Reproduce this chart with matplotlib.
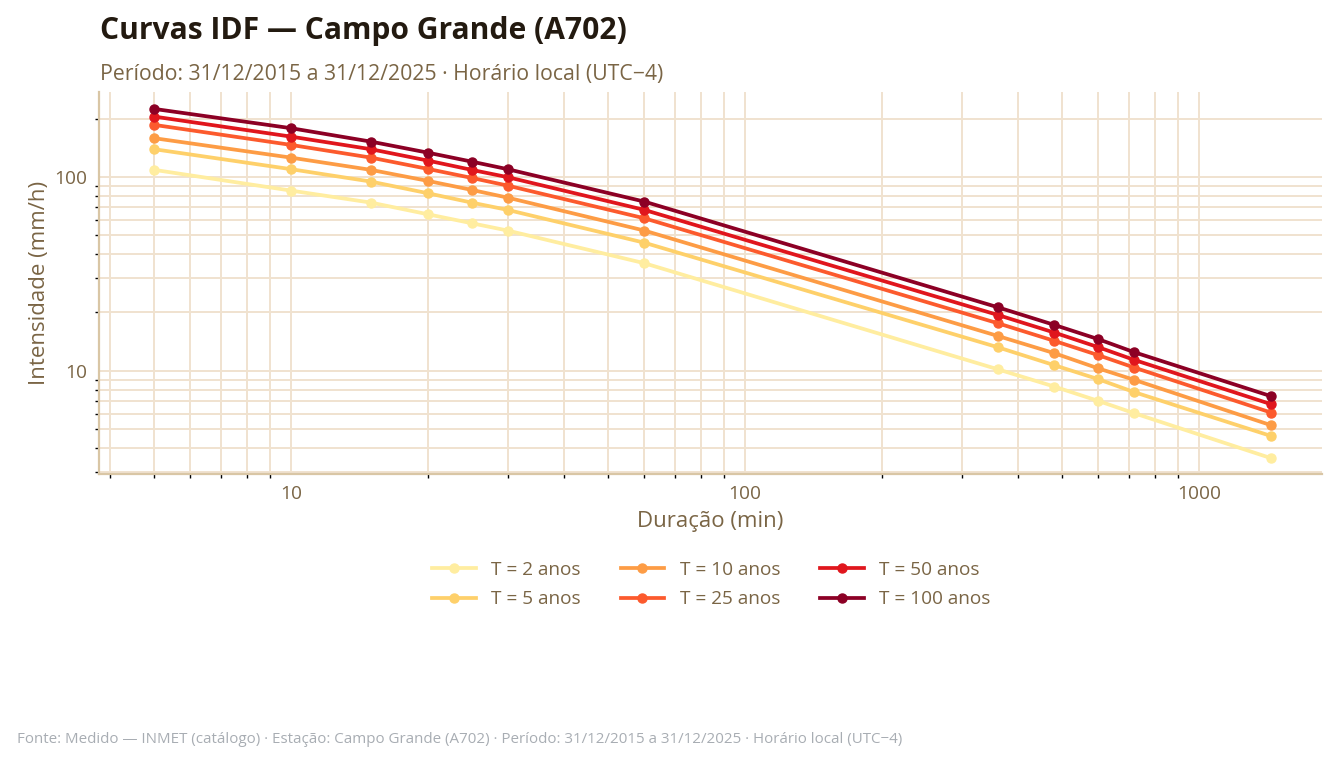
import matplotlib
matplotlib.use('Agg')
import matplotlib.pyplot as plt
from matplotlib.ticker import LogLocator, FixedLocator, FixedFormatter, NullFormatter

plt.rcParams['font.family'] = ['Open Sans', 'DejaVu Sans']

# duracoes (min) e intensidades (mm/h)
duracao = [5, 10, 15, 20, 25, 30, 60, 360, 480, 600, 720, 1440]
i_t2 = [108.7, 85.0, 73.7, 64.2, 57.7, 52.9, 35.9, 10.2, 8.30, 7.0, 6.05, 3.55]
i_t5 = [138.9, 109.6, 94.6, 82.4, 73.7, 67.6, 45.8, 13.25, 10.7, 9.06, 7.77, 4.62]
i_t10 = [158.3, 125.7, 108.7, 95.4, 85.7, 78.2, 52.9, 15.15, 12.34, 10.3, 8.99, 5.25]
i_t25 = [185.4, 146.2, 125.7, 110.0, 98.8, 90.2, 61.2, 17.62, 14.28, 12.05, 10.4, 6.10]
i_t50 = [204.6, 161.3, 138.9, 121.4, 108.7, 99.7, 67.6, 19.44, 15.76, 13.25, 11.39, 6.74]
i_t100 = [224.1, 178.3, 152.0, 133.4, 119.9, 109.6, 74.6, 21.3, 17.26, 14.57, 12.48, 7.41]

series = [('T = 2 anos', i_t2, '#ffeda0'),
          ('T = 5 anos', i_t5, '#fed06a'),
          ('T = 10 anos', i_t10, '#fd9c45'),
          ('T = 25 anos', i_t25, '#fc5a2d'),
          ('T = 50 anos', i_t50, '#e0161d'),
          ('T = 100 anos', i_t100, '#8c0025')]

txt = '#7a6545'
grid = '#f0e2cf'

fig = plt.figure(figsize=(13.38, 7.66), dpi=100)
ax = fig.add_axes([0.0738, 0.3812, 0.9146, 0.4987])

for label, vals, cor in series:
    ax.plot(duracao, vals, '-o', color=cor, lw=2.7, ms=6.5, label=label)

ax.set_xscale('log')
ax.set_yscale('log')
ax.set_xlim(3.77, 1871)
ax.set_ylim(2.94, 274)

ax.xaxis.set_major_locator(FixedLocator([10, 100, 1000]))
ax.xaxis.set_major_formatter(FixedFormatter(['10', '100', '1000']))
ax.xaxis.set_minor_locator(LogLocator(base=10, subs=range(2, 10)))
ax.xaxis.set_minor_formatter(NullFormatter())
ax.yaxis.set_major_locator(FixedLocator([10, 100]))
ax.yaxis.set_major_formatter(FixedFormatter(['10', '100']))
ax.yaxis.set_minor_locator(LogLocator(base=10, subs=range(2, 10)))
ax.yaxis.set_minor_formatter(NullFormatter())

ax.grid(True, which='both', color=grid, lw=1.4)
ax.set_axisbelow(True)
ax.tick_params(which='major', length=0, labelsize=13.8, labelcolor=txt, pad=8)
ax.tick_params(which='minor', length=3, width=1, color='black')
for s in ['top', 'right']:
    ax.spines[s].set_visible(False)
for s in ['left', 'bottom']:
    ax.spines[s].set_color('#d9c6a5')
    ax.spines[s].set_linewidth(1.6)

ax.set_xlabel('Duração (min)', fontsize=16, color=txt, labelpad=6)
ax.set_ylabel('Intensidade (mm/h)', fontsize=16, color=txt, labelpad=3)

fig.text(0.0747, 0.949, 'Curvas IDF — Campo Grande (A702)', fontsize=21.6,
         fontweight='bold', color='#231a10', va='baseline')
fig.text(0.0747, 0.896, 'Período: 31/12/2015 a 31/12/2025 · Horário local (UTC−4)',
         fontsize=15.3, color=txt, va='baseline')

leg = fig.legend(loc='center', bbox_to_anchor=(0.5315, 0.237), ncol=3, frameon=False,
                 fontsize=13.7, handlelength=2.3, handletextpad=0.8,
                 columnspacing=2.1, labelspacing=0.6)
for t in leg.get_texts():
    t.set_color(txt)

fig.text(0.0127, 0.03, 'Fonte: Medido — INMET (catálogo) · Estação: Campo Grande (A702) · '
         'Período: 31/12/2015 a 31/12/2025 · Horário local (UTC−4)',
         fontsize=10.9, color='#a8adb3', va='baseline')

fig.savefig('out.png', dpi=100, facecolor='white')
